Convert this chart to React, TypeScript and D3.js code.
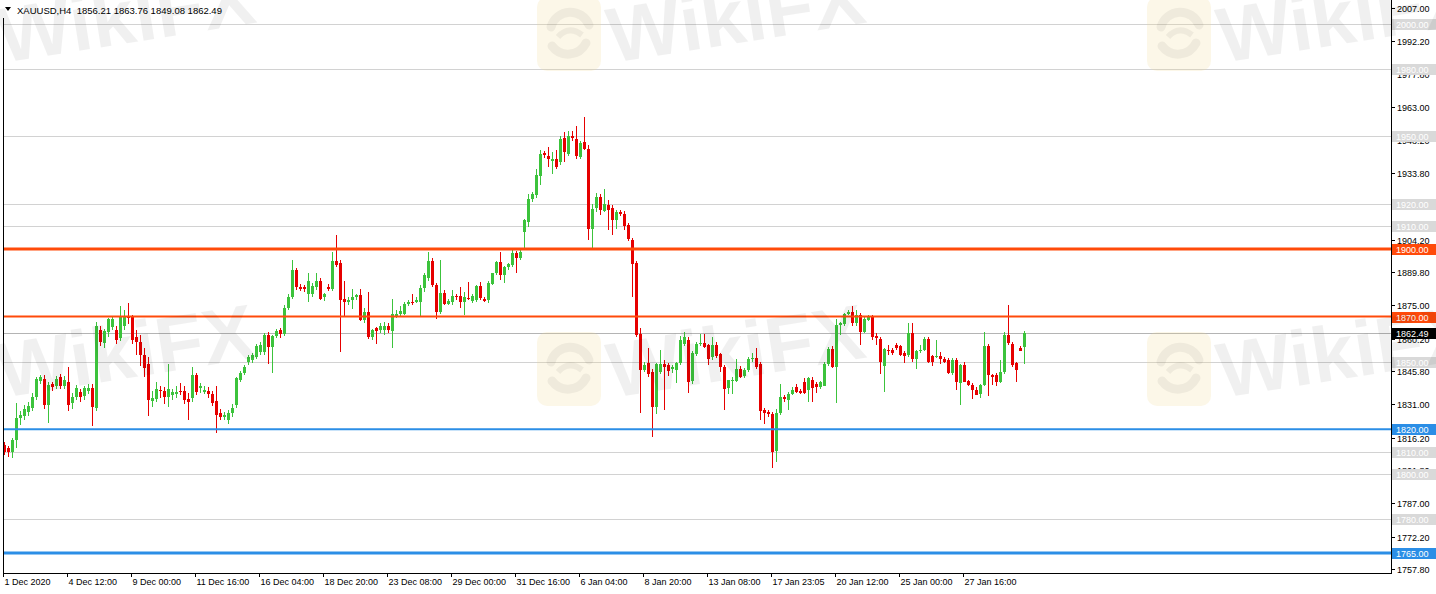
import React from 'react'
import * as d3 from 'd3'

const W = 1436
const H = 594

// XAUUSD H4 candles, [open, high, low, close]
const candles: [number, number, number, number][] = [
  [1812.9, 1814.5, 1808.5, 1809.8], [1811.5, 1812.5, 1807.5, 1809.8], [1809.8, 1816, 1807, 1815], [1815, 1831.5, 1811.6, 1824.9],
  [1824.9, 1828, 1822, 1826.2], [1825.8, 1830.7, 1824, 1828.9], [1827.5, 1832, 1826, 1830.2], [1829.3, 1836, 1828, 1834.2],
  [1834.2, 1843, 1833, 1842.2], [1841.3, 1844, 1840, 1843.1], [1842.2, 1844, 1829, 1830.6], [1830.6, 1841, 1822.7, 1839.5],
  [1840, 1841, 1837, 1838.6], [1839, 1843.5, 1838, 1842.2], [1843.1, 1844.4, 1838, 1839.1], [1839.1, 1843.5, 1838, 1841.7],
  // 4 Dec 12:00
  [1840.8, 1847.5, 1828, 1830.6], [1831.5, 1836, 1829, 1834.2], [1834.2, 1839.5, 1833, 1838.2], [1836.4, 1838, 1832, 1834.2],
  [1834.5, 1839, 1833, 1838.2], [1836.8, 1840, 1835.5, 1838.2], [1838.2, 1840, 1821.3, 1829.8], [1829.8, 1867.6, 1828, 1866],
  [1864, 1866, 1857, 1858.7], [1858.3, 1864.5, 1856, 1863.5], [1863.2, 1869.5, 1861, 1868.8], [1865.4, 1870, 1864, 1868.8],
  [1863.9, 1866, 1858, 1859.5], [1860.5, 1874.6, 1859, 1869.8], [1866, 1872.8, 1864, 1869.8], [1869.8, 1876, 1866.5, 1869.2],
  // 9 Dec 00:00
  [1869.8, 1870.5, 1858, 1859.5], [1860.7, 1864, 1853, 1858.7], [1858.7, 1862, 1848, 1852.8], [1853, 1856, 1843, 1847.4],
  [1849, 1852, 1826, 1833], [1832.6, 1837, 1830, 1834], [1833.6, 1841, 1832, 1838], [1837.6, 1839, 1834, 1837],
  [1837, 1838.5, 1831, 1834.3], [1834.3, 1849, 1830, 1838], [1835.4, 1838, 1833, 1836.6], [1835.8, 1839, 1834, 1836.6],
  [1837, 1840.5, 1835, 1836.6], [1837, 1839, 1831, 1832.9], [1833.6, 1836, 1824, 1832.1], [1833.6, 1847.6, 1832, 1844],
  // 11 Dec 16:00
  [1844, 1845, 1835, 1836.6], [1838, 1840.3, 1836, 1839.1], [1836.6, 1839, 1835.5, 1837.6], [1837, 1838.5, 1834, 1835.8],
  [1835.8, 1837, 1830.5, 1831.7], [1832.6, 1839, 1818.4, 1826.2], [1827.2, 1829, 1824, 1825.5], [1825.5, 1827.5, 1824, 1826.2],
  [1824.3, 1828.5, 1822.5, 1827.2], [1827, 1831, 1825.5, 1829.2], [1830.5, 1843, 1829.5, 1842.5], [1842, 1846, 1841, 1845],
  [1845, 1848.5, 1844, 1847.6], [1849.9, 1853, 1848.5, 1852.1], [1850.6, 1854, 1849.5, 1852.8], [1852.1, 1858, 1851, 1856.8],
  // 16 Dec 04:00
  [1854.3, 1858.5, 1853, 1857.5], [1854, 1862.5, 1853, 1861.7], [1861.7, 1863, 1849, 1856.5], [1856.5, 1862, 1845, 1861.2],
  [1861.5, 1864.5, 1860.5, 1863.5], [1863.9, 1865, 1860.5, 1862], [1862.4, 1875, 1861.5, 1874], [1874, 1880, 1873, 1878.7],
  [1878.7, 1895.3, 1878, 1890.5], [1890.5, 1891.5, 1882, 1883], [1883.1, 1884.5, 1881.5, 1882.4], [1883.1, 1884, 1881, 1882],
  [1880.2, 1889.3, 1876.5, 1885.8], [1879.9, 1885, 1878.5, 1883.4], [1883.1, 1889.3, 1882, 1885.8], [1885.8, 1887, 1877.5, 1878],
  // 18 Dec 20:00
  [1878.4, 1880.5, 1877, 1879.9], [1883.1, 1884.5, 1881.5, 1882.4], [1882.4, 1898.7, 1881.5, 1894.7], [1894.7, 1906, 1892, 1893],
  [1893.8, 1895, 1854.3, 1877.2], [1878, 1886, 1870, 1876.5], [1876.5, 1878.5, 1875, 1877.5], [1877.2, 1882.4, 1873.5, 1878.7],
  [1878.7, 1880, 1877.5, 1879.4], [1879.4, 1882.4, 1868, 1868.3], [1868.3, 1874, 1867, 1872], [1872, 1881, 1860, 1861],
  [1861, 1864.5, 1859.5, 1863.9], [1864.7, 1865.5, 1858, 1863.2], [1863.9, 1867, 1862.5, 1865.7], [1863.9, 1867.5, 1862, 1865.7],
  // 23 Dec 08:00
  [1865.7, 1867, 1862.5, 1863.9], [1863.9, 1878, 1856.1, 1871.3], [1870.6, 1873, 1869.5, 1871.3], [1871, 1874.5, 1870, 1872.5],
  [1871.3, 1876.5, 1870.5, 1875.7], [1875.5, 1877.5, 1874.5, 1876.5], [1876.5, 1880, 1875, 1876], [1876.5, 1878.5, 1876, 1877.5],
  [1876.5, 1884, 1870, 1882.5], [1882.5, 1889.5, 1881, 1888.3], [1887.3, 1898.7, 1886, 1894.7], [1894.7, 1896, 1883, 1883.9],
  [1883.9, 1885, 1868.7, 1872], [1872, 1895.3, 1871, 1880.5], [1880.5, 1882, 1875, 1875.7], [1875.7, 1878, 1875, 1876.9],
  // 29 Dec 00:00
  [1876.5, 1881.7, 1875, 1879], [1879, 1880, 1877.5, 1878.4], [1879, 1883, 1874, 1876.5], [1876.5, 1880.9, 1870.9, 1878.7],
  [1878.4, 1885.3, 1877.5, 1878], [1876.9, 1880, 1876, 1879], [1877.2, 1884, 1876.5, 1883.4], [1883.4, 1885.3, 1877.5, 1878],
  [1878, 1878.5, 1876.5, 1876.9], [1877.2, 1886, 1876, 1884.9], [1884.6, 1889.5, 1884, 1889.3], [1889.1, 1894.5, 1888.5, 1894.2],
  [1894.2, 1898.7, 1886.1, 1888.3], [1888.3, 1892.5, 1884.9, 1892], [1891.7, 1894, 1890.5, 1893.2], [1892.7, 1899.5, 1892, 1898.2],
  // 31 Dec 16:00
  [1898.2, 1899, 1889.3, 1896.2], [1896.2, 1899.5, 1895, 1898.7], [1907.5, 1913.5, 1900, 1912.7], [1911.9, 1924.5, 1909.7, 1922.3],
  [1922.3, 1925.5, 1921, 1924.5], [1924, 1935.6, 1922.5, 1932.7], [1932.7, 1943.8, 1928.2, 1942.3], [1942.6, 1943.5, 1940.5, 1941.5],
  [1941.5, 1945.2, 1936.4, 1940.1], [1939.3, 1943, 1933.4, 1940.1], [1940.1, 1943.8, 1935.5, 1936.4], [1938.6, 1950, 1937.5, 1948.9],
  [1949.4, 1951.9, 1938.6, 1943], [1942.3, 1952.3, 1941.5, 1950.4], [1950.4, 1952.3, 1948, 1949.4], [1948.9, 1954.8, 1940, 1941.5],
  // 6 Jan 04:00
  [1940.8, 1948, 1940, 1947], [1947.4, 1958.5, 1944, 1944.5], [1944.5, 1946, 1903.8, 1909], [1909, 1920.1, 1900.1, 1917.9],
  [1917.9, 1925, 1916.5, 1923], [1923, 1924.5, 1915, 1917.1], [1917.1, 1926.8, 1916.5, 1920.1], [1919.4, 1921.9, 1908.3, 1917.1],
  [1918.3, 1919.5, 1906, 1913], [1913, 1917.5, 1909, 1916.4], [1916.4, 1917.5, 1914.5, 1915.7], [1915.7, 1917, 1908.5, 1910.5],
  [1910.5, 1911.5, 1903.5, 1904.1], [1904.1, 1905, 1878.7, 1893.5], [1893.8, 1894.5, 1861, 1861.7], [1862.1, 1865.1, 1827.2, 1846.2],
  // 8 Jan 20:00
  [1846.2, 1850, 1845.5, 1848.4], [1849.5, 1856, 1843, 1844.4], [1845.4, 1846.5, 1816.3, 1829.9], [1829.9, 1849.5, 1826.7, 1849.1],
  [1845.4, 1855, 1844.5, 1849.1], [1849.1, 1850.5, 1828.4, 1847.9], [1848.4, 1849.5, 1843.5, 1845.9], [1846.5, 1848.5, 1845, 1847.6],
  [1846.2, 1850, 1840.5, 1849.4], [1849.4, 1861.5, 1848.5, 1859.5], [1858, 1863.2, 1857, 1861], [1859.5, 1861, 1836, 1841],
  [1841, 1854.5, 1840, 1853.6], [1853.6, 1858.5, 1852.5, 1858], [1857.7, 1862.1, 1857, 1858.3], [1858.3, 1862.1, 1856, 1856.5],
  // 13 Jan 08:00
  [1857.3, 1858, 1848.4, 1851.3], [1851.8, 1860.7, 1850.5, 1857.3], [1857.3, 1858.5, 1851.5, 1852.4], [1853.3, 1854, 1845.4, 1847.6],
  [1847.6, 1848.5, 1828.4, 1838], [1838, 1842, 1835.5, 1841.7], [1841.4, 1843, 1835.8, 1841.7], [1841.7, 1851.3, 1841, 1846.9],
  [1846.9, 1848, 1842.5, 1843.2], [1843.5, 1847, 1842.5, 1846.2], [1846.2, 1852, 1845.5, 1851.3], [1851.3, 1853.9, 1850, 1851.8],
  [1851.8, 1856.2, 1846.5, 1847.6], [1849.1, 1850, 1824, 1828.4], [1828.4, 1829.5, 1822.5, 1827.2], [1827.7, 1828.5, 1825.5, 1826.7],
  // 17 Jan 23:05
  [1826.7, 1827.5, 1802.6, 1809.9], [1810.4, 1829, 1805.5, 1827.2], [1827.2, 1840, 1826.5, 1834.3], [1834.3, 1835, 1832.1, 1833.2],
  [1833.2, 1836.5, 1828.4, 1835.8], [1835.8, 1838.5, 1835, 1837.6], [1838.8, 1840, 1836, 1836.5], [1837, 1838, 1835.5, 1836.1],
  [1841, 1842.5, 1835.5, 1836.1], [1837, 1843, 1832.1, 1842.5], [1842, 1843, 1832.1, 1838.5], [1840, 1841, 1836, 1838.5],
  [1838.8, 1841.5, 1838, 1841], [1839.5, 1850, 1839, 1849.1], [1849.1, 1856.5, 1848, 1855.8], [1855.8, 1857, 1847, 1847.6],
  // 20 Jan 12:00
  [1847.6, 1869.1, 1831.7, 1866.1], [1866.1, 1867.8, 1861.7, 1867.2], [1866.9, 1871.6, 1866, 1871.3], [1871.3, 1873, 1870.5, 1872],
  [1872, 1874.6, 1866, 1866.9], [1866.9, 1873.1, 1866, 1870.6], [1870.6, 1871.5, 1857.3, 1863.2], [1863.2, 1870, 1862.5, 1869.1],
  [1868.6, 1870.5, 1868, 1869.8], [1869.8, 1870.5, 1859.5, 1861], [1861.3, 1862.7, 1857.3, 1860.2], [1860.2, 1861, 1844.7, 1849.9],
  [1848.4, 1856, 1836.5, 1855.8], [1855.3, 1857.3, 1852.8, 1855], [1855.3, 1856, 1852.8, 1853.9], [1857.3, 1858.3, 1855, 1855.8],
  // 25 Jan 00:00
  [1856.8, 1857.5, 1852.5, 1852.8], [1853.9, 1854.5, 1849.4, 1852.4], [1852.8, 1867.2, 1852, 1862.7], [1862.7, 1867.2, 1849.9, 1851.3],
  [1851.3, 1855, 1846.5, 1854.7], [1854.7, 1857.3, 1854, 1855.3], [1855.3, 1861, 1854.5, 1860.2], [1860.2, 1861, 1849.5, 1849.9],
  [1852.4, 1853, 1847.9, 1849.9], [1852.1, 1859.5, 1851.5, 1852.4], [1852.4, 1854.3, 1849, 1850.9], [1851.3, 1852, 1849.5, 1849.9],
  [1850.6, 1851.5, 1844.5, 1844.7], [1844.7, 1851.5, 1844, 1850.6], [1850.6, 1851.5, 1837.6, 1841], [1840.5, 1849, 1830.6, 1848.4],
  // 27 Jan 16:00
  [1848.4, 1850, 1841, 1841], [1841.4, 1842, 1839, 1839.5], [1839.5, 1840.5, 1833.2, 1837.3], [1837.6, 1838.5, 1835.5, 1835.5],
  [1835.5, 1840, 1834, 1839.5], [1839.5, 1863.2, 1839, 1856.8], [1856.8, 1858, 1834.6, 1844], [1844, 1844.5, 1839.5, 1843.2],
  [1844, 1845, 1839.1, 1841], [1841, 1850.6, 1840.5, 1845.4], [1845.4, 1863.2, 1844.5, 1861.7], [1861.7, 1875, 1857.5, 1858],
  [1858, 1858.5, 1847.6, 1848.8], [1849.4, 1850, 1841, 1846.5], [1856.2, 1856.8, 1854.5, 1855], [1856.21, 1863.76, 1849.08, 1862.49],
]

const priceTicks = [2007.0, 1992.2, 1977.8, 1963.0, 1948.2, 1933.8, 1919.0, 1904.2, 1889.8, 1875.0, 1860.2, 1845.8, 1831.0, 1816.2, 1801.8, 1787.0, 1772.2, 1757.8]
const timeLabels = ['1 Dec 2020', '4 Dec 12:00', '9 Dec 00:00', '11 Dec 16:00', '16 Dec 04:00', '18 Dec 20:00', '23 Dec 08:00', '29 Dec 00:00', '31 Dec 16:00', '6 Jan 04:00', '8 Jan 20:00', '13 Jan 08:00', '17 Jan 23:05', '20 Jan 12:00', '25 Jan 00:00', '27 Jan 16:00']
const barsPerLabel = 16
const grayLevels = [2000, 1980, 1950, 1920, 1910, 1850, 1810, 1800, 1780]
const resistanceLevels = [1900, 1870]
const supportLevels = [1820, 1765]
const symbol = 'XAUUSD,H4'

const FONT = '"Liberation Sans", Arial, sans-serif'
const UP = '#3cc33c'
const DOWN = '#e60000'
const ORANGE = '#ff4a0a'
const BLUE = '#2b8ee6'

const left = 3
const axisX = 1391
const bottom = 573

// faint site watermark tile (logo square + word), repeated over the chart
const Watermark = ({ dx, dy }: { dx: number; dy: number }) => (
  <g transform={`translate(${dx},${dy})`} pointerEvents="none">
    <rect x={537} y={332} width={64} height={74} rx={10} fill="#f2d78a" opacity={0.2} />
    <path d="M551,362 A20,20 0 0 1 589,360 M586,378 A20,20 0 0 1 552,381" fill="none"
      stroke="#000" strokeOpacity={0.05} strokeWidth={9} strokeLinecap="round" />
    <path d="M558,372 q11,-12 24,-2" fill="none" stroke="#000" strokeOpacity={0.05} strokeWidth={6} />
    <text x={612} y={398} fontFamily={FONT} fontWeight={700} fontSize={78} fill="#000" fillOpacity={0.06}
      transform="rotate(-9 612 398)">WikiFX</text>
  </g>
)

export default function App() {
  const x = d3.scaleLinear().domain([0, candles.length - 1]).range([4, 1024])
  const y = d3.scaleLinear().domain([1765, 1900]).range([553, 249])
  const last = candles[candles.length - 1]
  const header = `${symbol}  ${last.map((v) => v.toFixed(2)).join(' ')}`

  const levelBox = (p: number, bg: string, fg: string, label: string) => {
    const cy = Math.round(y(p))
    return (
      <g key={`box-${label}-${bg}`}>
        <rect x={axisX + 1} y={cy - 5} width={W - axisX - 1} height={11} fill={bg} />
        <text x={axisX + 5} y={cy + 0.5} dy="0.35em" fontSize={9} fontFamily={FONT} fill={fg}>{label}</text>
      </g>
    )
  }

  return (
    <div style={{ position: 'fixed', left: 0, top: 0, width: W, height: H, background: '#fff' }}>
      <svg width={W} height={H} style={{ display: 'block' }}>
        <rect width={W} height={H} fill="#fff" />

        {/* gray level lines */}
        {grayLevels.map((p) => (
          <line key={`g${p}`} x1={left} x2={axisX} y1={Math.round(y(p)) + 0.5} y2={Math.round(y(p)) + 0.5} stroke="#d2d2d2" />
        ))}
        {/* bid line */}
        <line x1={left} x2={axisX} y1={Math.round(y(last[3])) + 0.5} y2={Math.round(y(last[3])) + 0.5} stroke="#b4b4b4" />

        {/* candles */}
        {candles.map(([o, h, l, c], i) => {
          const cx = Math.round(x(i))
          const col = c >= o ? UP : DOWN
          const top = Math.round(y(Math.max(o, c)))
          const bh = Math.max(1, Math.round(Math.abs(y(o) - y(c))))
          return (
            <g key={i}>
              <line x1={cx + 0.5} x2={cx + 0.5} y1={Math.round(y(h))} y2={Math.round(y(l))} stroke={col} />
              <rect x={cx - 1} y={top} width={3} height={bh} fill={col} />
            </g>
          )
        })}

        {/* support / resistance */}
        {resistanceLevels.map((p, i) => (
          <line key={`r${p}`} x1={left} x2={axisX} y1={y(p)} y2={y(p)} stroke={ORANGE} strokeWidth={i === 0 ? 3 : 2} />
        ))}
        {supportLevels.map((p, i) => (
          <line key={`s${p}`} x1={left} x2={axisX} y1={y(p)} y2={y(p)} stroke={BLUE} strokeWidth={i === 1 ? 3 : 2} />
        ))}

        {/* frame */}
        <line x1={left + 0.5} x2={left + 0.5} y1={18} y2={bottom + 0.5} stroke="#000" />
        <line x1={axisX + 0.5} x2={axisX + 0.5} y1={0} y2={bottom + 0.5} stroke="#000" />
        <line x1={left} x2={axisX + 1} y1={bottom + 0.5} y2={bottom + 0.5} stroke="#000" />

        {/* price axis */}
        {priceTicks.map((p) => {
          const ty = Math.round(y(p)) + 0.5
          return (
            <g key={`t${p}`}>
              <line x1={axisX} x2={axisX + 4} y1={ty} y2={ty} stroke="#000" />
              <text x={axisX + 6} y={ty} dy="0.35em" fontSize={9} fontFamily={FONT} fill="#000">{p.toFixed(2)}</text>
            </g>
          )
        })}
        {grayLevels.map((p) => levelBox(p, '#d9d9d9', '#fff', p.toFixed(2)))}
        {resistanceLevels.map((p) => levelBox(p, ORANGE, '#fff', p.toFixed(2)))}
        {supportLevels.map((p) => levelBox(p, BLUE, '#fff', p.toFixed(2)))}
        {levelBox(last[3], '#000', '#fff', last[3].toFixed(2))}

        {/* time axis */}
        {timeLabels.map((t, k) => {
          const tx = Math.round(x(k * barsPerLabel)) - 0.5
          return (
            <g key={t}>
              <line x1={tx} x2={tx} y1={bottom} y2={bottom + 4} stroke="#000" />
              <text x={tx + 1} y={bottom + 12} fontSize={9} fontFamily={FONT} fill="#000">{t}</text>
            </g>
          )
        })}

        {/* header */}
        <path d="M5,7 L11,7 L8,11 Z" fill="#000" />
        <text x={17} y={14} fontSize={9.5} fontFamily={FONT} fill="#000" xmlSpace="preserve">{header}</text>

        {/* watermarks */}
        {[[-610, 0], [0, 0], [610, 0], [-610, -335], [0, -335], [610, -335]].map(([dx, dy]) => (
          <Watermark key={`${dx}_${dy}`} dx={dx} dy={dy} />
        ))}
      </svg>
    </div>
  )
}
